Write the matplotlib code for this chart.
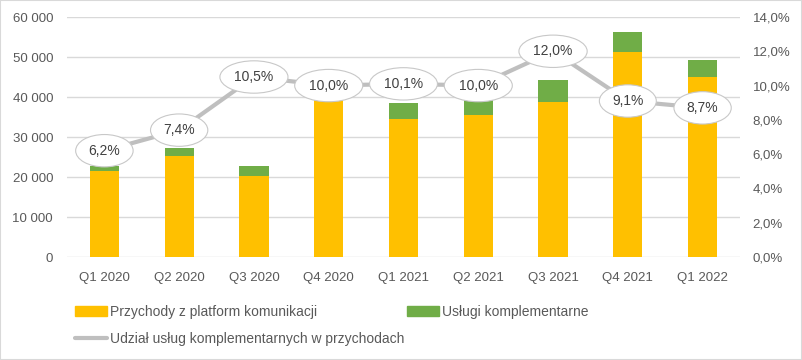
"""
Przychody kwartalne: platformy komunikacji + usługi komplementarne, z udziałem usług (%)
"""
import numpy as np
import matplotlib.pyplot as plt
from matplotlib.patches import Rectangle
from matplotlib.lines import Line2D
from matplotlib.ticker import FuncFormatter

plt.rcParams['font.family'] = ['Liberation Sans', 'DejaVu Sans']

quarters = ["Q1 2020", "Q2 2020", "Q3 2020", "Q4 2020", "Q1 2021",
            "Q2 2021", "Q3 2021", "Q4 2021", "Q1 2022"]
platform = [21400, 25300, 20300, 39200, 34500, 35500, 38800, 51300, 45000]
services = [1400, 2000, 2400, 4300, 4000, 4000, 5500, 5000, 4300]
share = [6.2, 7.4, 10.5, 10.0, 10.1, 10.0, 12.0, 9.1, 8.7]

label_platform = "Przychody z platform komunikacji"
label_services = "Usługi komplementarne"
label_share = "Udział usług komplementarnych w przychodach"

txt = '#595959'
grid = '#D9D9D9'

fig = plt.figure(figsize=(8.02, 3.6), dpi=100)
fig.patches.append(Rectangle((0, 0), 1, 1, transform=fig.transFigure, fill=False,
                             edgecolor=grid, linewidth=1.5))
ax = fig.add_axes([67/802, 1-257/360, (740-67)/802, (257-17)/360])

x = np.arange(len(quarters))
w = 0.39
ax.bar(x, platform, w, color='#FFC000', zorder=2)
ax.bar(x, services, w, bottom=platform, color='#70AD47', zorder=2)

ax.set_xlim(-0.5, len(quarters)-0.5)
ax.set_ylim(0, 60000)
ax.set_yticks(np.arange(0, 60001, 10000))
ax.yaxis.set_major_formatter(FuncFormatter(lambda v, p: "{:,.0f}".format(v).replace(",", " ")))
ax.set_xticks(x)
ax.set_xticklabels(quarters)
ax.grid(axis='y', color=grid, linewidth=1, zorder=0)
ax.set_axisbelow(True)
for s in ax.spines.values():
    s.set_visible(False)
ax.tick_params(axis='both', length=0, labelsize=9.5, colors=txt)
ax.tick_params(axis='x', pad=11)
ax.tick_params(axis='y', pad=10)

ax2 = ax.twinx()
ax2.set_ylim(0, 14)
ax2.set_yticks(np.arange(0, 14.1, 2))
ax2.yaxis.set_major_formatter(FuncFormatter(lambda v, p: "{:.1f}%".format(v).replace(".", ",")))
for s in ax2.spines.values():
    s.set_visible(False)
ax2.tick_params(axis='y', length=0, labelsize=9.5, colors=txt, pad=9)

ax2.plot(x, share, color='#BFBFBF', linewidth=3, solid_capstyle='round', zorder=3)
for xi, v in zip(x, share):
    ax2.annotate("{:.1f}%".format(v).replace(".", ","), (xi, v), ha='center', va='center',
                 fontsize=10, color='#404040', zorder=4,
                 bbox=dict(boxstyle='ellipse,pad=0.32', fc='white', ec='#C8C8C8', lw=0.8))

# legenda
h_platform = Rectangle((0, 0), 1, 1, color='#FFC000')
h_services = Rectangle((0, 0), 1, 1, color='#70AD47')
h_share = Line2D([], [], color='#BFBFBF', linewidth=3, solid_capstyle='round')
fig.legend([h_platform, h_share, h_services], [label_platform, label_share, label_services],
           ncol=2, loc='upper left', bbox_to_anchor=(75/802, 1-305/360), frameon=False,
           fontsize=10, labelcolor=txt, handlelength=2.3, handletextpad=0.2,
           columnspacing=0.2, labelspacing=0.92, borderpad=0, borderaxespad=0)

plt.savefig("out.png", dpi=100)
